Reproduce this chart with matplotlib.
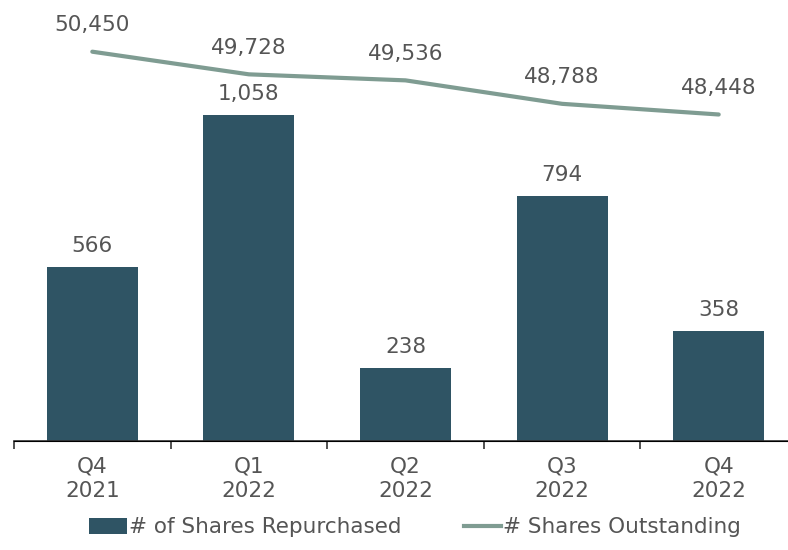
import matplotlib
matplotlib.use("Agg")
import matplotlib.pyplot as plt
from matplotlib.patches import Patch
from matplotlib.lines import Line2D

categories = ["Q4\n2021", "Q1\n2022", "Q2\n2022", "Q3\n2022", "Q4\n2022"]
repurchased = [566, 1058, 238, 794, 358]
outstanding = [50450, 49728, 49536, 48788, 48448]

bar_color = "#2f5464"
line_color = "#7f9c92"
text_color = "#555555"

plt.rcParams["font.family"] = ["DejaVu Sans"]

W, H = 788, 550
fig = plt.figure(figsize=(W / 100, H / 100), dpi=100)
left, right = 14, 797
bottom, top = 441, 10
ax = fig.add_axes([left / W, (H - bottom) / H, (right - left) / W, (bottom - top) / H])

fs = 15.5
x = list(range(len(categories)))
ax.bar(x, repurchased, width=0.58, color=bar_color, zorder=2)
ax.set_xlim(-0.5, len(categories) - 0.5)
ax.set_ylim(0, 1399)
for xi, v in zip(x, repurchased):
    ax.annotate(f"{v:,}", (xi, v), xytext=(0, 8), textcoords="offset points",
                ha="center", va="bottom", fontsize=fs, color=text_color)

ax2 = ax.twinx()
ax2.plot(x, outstanding, color=line_color, lw=3.0, solid_capstyle="round", zorder=3)
ax2.set_ylim(38040, 51779)
for xi, v in zip(x, outstanding):
    ax2.annotate(f"{v:,}", (xi, v), xytext=(0, 12), textcoords="offset points",
                 ha="center", va="bottom", fontsize=fs, color=text_color)

for a in (ax, ax2):
    for s in ("top", "right", "left"):
        a.spines[s].set_visible(False)
    a.set_yticks([])
ax.spines["bottom"].set_color("#333333")
ax.spines["bottom"].set_linewidth(1.2)

ax.set_xticks([i + 0.5 for i in range(-1, len(categories))], minor=False)
ax.set_xticklabels([])
ax.tick_params(axis="x", which="major", length=6, color="#333333", width=1.2)
ax.set_xticks(x, minor=True)
ax.set_xticklabels(categories, minor=True, fontsize=fs, color=text_color, linespacing=1.32)
ax.tick_params(axis="x", which="minor", length=0, pad=11)

handles = [Patch(facecolor=bar_color, edgecolor="none"),
           Line2D([0], [0], color=line_color, lw=3.0)]
labels = ["# of Shares Repurchased", "# Shares Outstanding"]
fig.legend(handles, labels, loc="lower center", bbox_to_anchor=(0.527, -0.012), ncol=2,
           frameon=False, fontsize=fs, labelcolor=text_color, handlelength=1.75,
           handletextpad=0.08, columnspacing=2.9, handleheight=0.75)

fig.savefig("out.png", dpi=100)
